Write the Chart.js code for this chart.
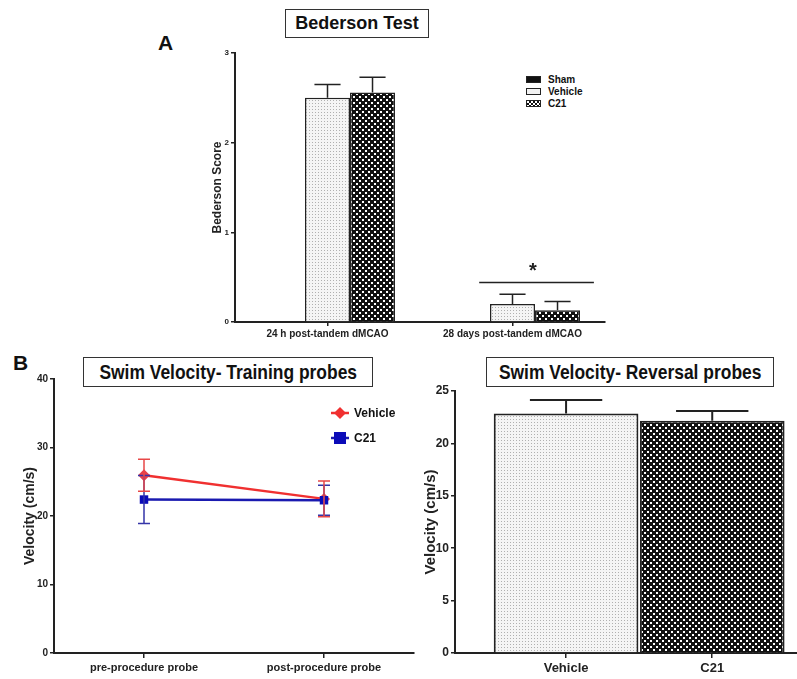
<!DOCTYPE html>
<html lang="en">
<head>
<meta charset="UTF-8">
<title>Bederson Test and Swim Velocity</title>
<script src="https://cdn.jsdelivr.net/npm/chart.js@4"></script>
<style>
  body { margin: 0; background: #fff; width: 797px; height: 679px; position: relative; overflow: hidden;
         font-family: 'Liberation Sans', Arial, sans-serif; color: #111; }
  canvas { position: absolute; }
  .box { position: absolute; border: 1px solid #333; box-sizing: border-box; background: #fff;
         display: flex; align-items: center; justify-content: center; font-weight: bold; white-space: nowrap; }
  .box span { display: inline-block; }
  .panel { position: absolute; font-weight: bold; font-size: 21px; line-height: 1; }
  .legend { position: absolute; font-weight: bold; white-space: nowrap; }
  .legend div { position: relative; display: flex; align-items: center; }
  .sw { display: inline-block; box-sizing: border-box; border: 1px solid #222; }
</style>
</head>
<body>
<div class="panel" style="left:158px; top:32px;">A</div>
<div class="box" style="left:285px; top:9px; width:144px; height:29px; font-size:18px;">Bederson Test</div>

<div class="legend" style="left:526px; top:73px; font-size:10px;">
  <div style="height:12px;"><span class="sw" style="width:15px; height:7px; background:#111;"></span><span style="margin-left:7px;">Sham</span></div>
  <div style="height:12px;"><span class="sw" style="width:15px; height:7px; background:#f2f2f2;"></span><span style="margin-left:7px;">Vehicle</span></div>
  <div style="height:12px;"><span class="sw" style="width:15px; height:7px; background:repeating-conic-gradient(#111 0 25%, #fff 0 50%) 0 0 / 4px 4px;"></span><span style="margin-left:7px;">C21</span></div>
</div>

<div class="panel" style="left:13px; top:352px;">B</div>
<div class="box" style="left:83px; top:357px; width:290px; height:30px; font-size:21px;"><span style="transform:scaleX(0.83);">Swim Velocity- Training probes</span></div>
<div class="box" style="left:486px; top:357px; width:288px; height:30px; font-size:21px;"><span style="transform:scaleX(0.83);">Swim Velocity- Reversal probes</span></div>

<canvas id="bedersonChart" width="415" height="300" style="left:200px; top:45px;"></canvas>
<canvas id="trainingChart" width="420" height="309" style="left:0px; top:370px;"></canvas>
<canvas id="reversalChart" width="387" height="309" style="left:410px; top:370px;"></canvas>

<div class="legend" style="left:330px; top:400px; font-size:12px;">
  <div style="height:25px;">
    <svg width="20" height="12"><line x1="1" y1="6" x2="19" y2="6" stroke="#f03030" stroke-width="2.5"/><polygon points="10,0 16,6 10,12 4,6" fill="#f03030"/></svg>
    <span style="margin-left:4px;">Vehicle</span></div>
  <div style="height:25px;">
    <svg width="20" height="12"><line x1="1" y1="6" x2="19" y2="6" stroke="#1a1ab0" stroke-width="2.5"/><rect x="4" y="0" width="12" height="12" fill="#0b0bb8"/></svg>
    <span style="margin-left:4px;">C21</span></div>
</div>

<script>
// ---- data ----
const bedersonLabels = ['24 h post-tandem dMCAO', '28 days post-tandem dMCAO'];
const bedersonSham = [0, 0];
const bedersonVehicle = [2.5, 0.2];
const bedersonVehicleSem = [0.15, 0.11];
const bedersonC21 = [2.56, 0.13];
const bedersonC21Sem = [0.17, 0.10];
// significance bar over the 28 day group (category index units / score units)
const sigFrom = 0.82, sigTo = 1.44, sigLevel = 0.44, starLevel = 0.6;

const trainingLabels = ['pre-procedure probe', 'post-procedure probe'];
const trainingVehicle = [25.95, 22.5];
const trainingVehicleSem = [2.35, 2.6];
const trainingC21 = [22.4, 22.3];
const trainingC21Sem = [3.5, 2.2];

const reversalLabels = ['Vehicle', 'C21'];
const reversalVelocity = [22.85, 22.15];
const reversalSem = [1.3, 0.95];

// ---- fill patterns ----
function makePattern(size, draw) {
    const c = document.createElement('canvas');
    c.width = c.height = size;
    draw(c.getContext('2d'));
    return document.createElement('canvas').getContext('2d').createPattern(c, 'repeat');
}
const dotted = makePattern(3, g => {
    g.fillStyle = '#f5f5f5'; g.fillRect(0, 0, 3, 3);
    g.fillStyle = '#b0b0b0'; g.fillRect(1, 1, 1, 1);
});
const checker = makePattern(6, g => {
    g.fillStyle = '#111'; g.fillRect(0, 0, 6, 6);
    g.fillStyle = '#fff'; g.fillRect(0, 0, 2, 2); g.fillRect(3, 3, 2, 2);
});

const FONT = "'Liberation Sans', Arial, sans-serif";
const INK = '#222';

// error bars: bars get an upper whisker only, line points get both
const errorBars = {
    id: 'errorBars',
    afterDatasetsDraw(chart) {
        const ctx = chart.ctx;
        const y = chart.scales.y;
        const isBar = chart.config.type === 'bar';
        chart.data.datasets.forEach((ds, i) => {
            if (!ds.errors) return;
            const meta = chart.getDatasetMeta(i);
            meta.data.forEach((el, j) => {
                const err = ds.errors[j];
                if (!err) return;
                const raw = ds.data[j];
                const v = typeof raw === 'object' ? raw.y : raw;
                const top = y.getPixelForValue(v + err);
                const bottom = isBar ? el.y : y.getPixelForValue(v - err);
                const half = ds.capWidth ? ds.capWidth / 2 : el.width * ds.capRatio / 2;
                ctx.save();
                ctx.strokeStyle = ds.errorColor || INK;
                ctx.lineWidth = ds.errorWidth || 1.5;
                ctx.beginPath();
                ctx.moveTo(el.x, bottom); ctx.lineTo(el.x, top);
                ctx.moveTo(el.x - half, top); ctx.lineTo(el.x + half, top);
                if (!isBar) {
                    ctx.moveTo(el.x - half, bottom); ctx.lineTo(el.x + half, bottom);
                }
                ctx.stroke();
                ctx.restore();
            });
        });
    }
};

const sigMark = {
    id: 'sigMark',
    afterDraw(chart) {
        const {ctx, scales: {x, y}} = chart;
        ctx.save();
        ctx.strokeStyle = INK;
        ctx.lineWidth = 1.5;
        ctx.beginPath();
        ctx.moveTo(x.getPixelForValue(sigFrom), y.getPixelForValue(sigLevel));
        ctx.lineTo(x.getPixelForValue(sigTo), y.getPixelForValue(sigLevel));
        ctx.stroke();
        ctx.fillStyle = INK;
        ctx.font = 'bold 20px ' + FONT;
        ctx.textAlign = 'center';
        ctx.textBaseline = 'middle';
        ctx.fillText('*', x.getPixelForValue((sigFrom + sigTo) / 2 - 0.02), y.getPixelForValue(starLevel) + 3);
        ctx.restore();
    }
};

function yAxis(max, step, title, titleSize, tickSize, width) {
    return {
        min: 0, max: max,
        ticks: { stepSize: step, color: INK, padding: 2, font: { family: FONT, size: tickSize, weight: 'bold' } },
        grid: { drawOnChartArea: false, tickLength: 4, color: INK, lineWidth: 1.5 },
        border: { color: INK, width: 2 },
        title: { display: true, text: title, color: INK, font: { family: FONT, size: titleSize, weight: 'bold' } },
        afterFit: s => { s.width = width; }
    };
}

Chart.defaults.animation = false;
Chart.defaults.plugins.legend.display = false;
Chart.defaults.plugins.tooltip.enabled = false;

// A: Bederson test
new Chart(document.getElementById('bedersonChart'), {
    type: 'bar',
    data: {
        labels: bedersonLabels,
        datasets: [
            { label: 'Sham', data: bedersonSham, backgroundColor: '#111', borderColor: INK, borderWidth: 1 },
            { label: 'Vehicle', data: bedersonVehicle, errors: bedersonVehicleSem, capRatio: 0.58,
              backgroundColor: dotted, borderColor: INK, borderWidth: 1.5 },
            { label: 'C21', data: bedersonC21, errors: bedersonC21Sem, capRatio: 0.58,
              backgroundColor: checker, borderColor: INK, borderWidth: 1.5 }
        ]
    },
    options: {
        responsive: false,
        layout: { padding: { left: 6, right: 10, top: 8, bottom: 0 } },
        datasets: { bar: { categoryPercentage: 0.73, barPercentage: 1 } },
        scales: {
            x: {
                grid: { offset: false, drawOnChartArea: false, tickLength: 4, color: INK, lineWidth: 1.5 },
                border: { color: INK, width: 2 },
                ticks: { color: INK, padding: 2, font: { family: FONT, size: 10, weight: 'bold' } },
                afterFit: s => { s.height = 23; }
            },
            y: yAxis(3, 1, 'Bederson Score', 12, 8, 29)
        }
    },
    plugins: [errorBars, sigMark]
});

// B left: training probes
new Chart(document.getElementById('trainingChart'), {
    type: 'line',
    data: {
        labels: trainingLabels,
        datasets: [
            { label: 'C21', data: trainingC21, errors: trainingC21Sem, capWidth: 12, order: 0,
              borderColor: '#1a1ab0', backgroundColor: '#0b0bb8', borderWidth: 2.5,
              pointStyle: 'rect', pointRadius: 6, pointBorderWidth: 0, errorColor: '#3535a8', errorWidth: 1.5 },
            { label: 'Vehicle', data: trainingVehicle, errors: trainingVehicleSem, capWidth: 12, order: 1,
              borderColor: '#f03030', backgroundColor: '#e8404a', borderWidth: 2.5,
              pointStyle: 'rectRot', pointRadius: 6, pointBorderWidth: 0, errorColor: '#e84848', errorWidth: 1.5 }
        ]
    },
    options: {
        responsive: false,
        layout: { padding: { left: 18, right: 5, top: 9, bottom: 0 } },
        scales: {
            x: {
                offset: true,
                grid: { offset: false, drawOnChartArea: false, tickLength: 5, color: INK, lineWidth: 1.5 },
                border: { color: INK, width: 2 },
                ticks: { color: INK, padding: 3, font: { family: FONT, size: 11, weight: 'bold' } },
                afterFit: s => { s.height = 26; }
            },
            y: yAxis(40, 10, 'Velocity (cm/s)', 14, 10, 36)
        }
    },
    plugins: [errorBars]
});

// B right: reversal probes
new Chart(document.getElementById('reversalChart'), {
    type: 'bar',
    data: {
        datasets: [{
            label: 'Velocity',
            data: reversalVelocity.map((v, i) => ({ x: i + 1, y: v })),
            errors: reversalSem, capRatio: 0.5, errorWidth: 2,
            backgroundColor: [dotted, checker], borderColor: INK, borderWidth: 2,
            categoryPercentage: 0.99, barPercentage: 1
        }]
    },
    options: {
        responsive: false,
        layout: { padding: { left: 8, right: 0, top: 21, bottom: 0 } },
        scales: {
            x: {
                type: 'linear', min: 0.24, max: 2.58, offset: false,
                afterBuildTicks: s => { s.ticks = reversalLabels.map((_, i) => ({ value: i + 1 })); },
                grid: { offset: false, drawOnChartArea: false, tickLength: 5, color: INK, lineWidth: 1.5 },
                border: { color: INK, width: 2 },
                ticks: { color: INK, padding: 3, callback: v => reversalLabels[v - 1],
                         font: { family: FONT, size: 13, weight: 'bold' } },
                afterFit: s => { s.height = 26; }
            },
            y: yAxis(25, 5, 'Velocity (cm/s)', 15, 12, 37)
        }
    },
    plugins: [errorBars]
});
</script>
</body>
</html>
